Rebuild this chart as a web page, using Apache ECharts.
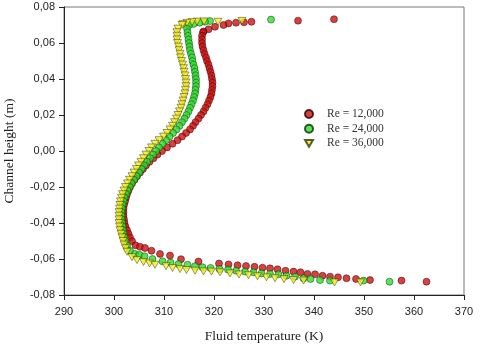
<!DOCTYPE html>
<html>
<head>
<meta charset="utf-8">
<script src="https://cdn.jsdelivr.net/npm/echarts@6/dist/echarts.min.js"></script>
<style>
  html, body { margin: 0; padding: 0; background: #fff; }
  #chart { width: 480px; height: 348px; }
</style>
</head>
<body>
<div id="chart"></div>
<script>
// [temperature (K), channel height (m)]
var re12 = [
  [344.0, 0.0732], [336.8, 0.0724], [327.5, 0.0718], [326.0, 0.0715], [324.4, 0.0713], [322.9, 0.0709],
  [321.9, 0.0700], [320.2, 0.0690], [318.9, 0.0676], [317.9, 0.0664],
  [317.8, 0.066], [317.6, 0.064], [317.6, 0.062], [317.6, 0.060], [317.7, 0.058], [317.9, 0.056],
  [318.1, 0.054], [318.4, 0.052], [318.6, 0.050], [318.9, 0.048], [319.1, 0.046], [319.3, 0.044],
  [319.5, 0.042], [319.6, 0.040], [319.7, 0.038], [319.7, 0.036], [319.6, 0.034], [319.5, 0.032],
  [319.3, 0.030], [319.0, 0.028], [318.7, 0.026], [318.3, 0.024], [317.9, 0.022], [317.4, 0.020],
  [316.9, 0.018], [316.3, 0.016], [315.8, 0.014], [315.2, 0.012], [314.4, 0.010], [313.6, 0.008],
  [312.7, 0.006], [311.7, 0.004], [310.6, 0.002], [309.6, 0.000], [308.7, -0.002], [307.9, -0.004],
  [307.1, -0.006], [306.4, -0.008], [305.8, -0.010], [305.2, -0.012], [304.6, -0.014], [304.1, -0.016],
  [303.6, -0.018], [303.2, -0.020], [302.9, -0.022], [302.6, -0.024], [302.4, -0.026], [302.2, -0.028],
  [302.0, -0.030], [301.9, -0.032], [301.9, -0.034], [301.9, -0.036], [302.0, -0.038], [302.1, -0.040],
  [302.3, -0.042], [302.6, -0.044], [302.9, -0.046], [303.2, -0.048], [303.6, -0.050],
  [304.3, -0.0524], [305.2, -0.0532], [306.2, -0.0539], [307.5, -0.0554], [309.2, -0.0572], [311.2, -0.0581],
  [313.4, -0.0601], [316.9, -0.0614], [321.0, -0.0625], [322.9, -0.0630], [324.7, -0.0635], [326.4, -0.0639],
  [328.1, -0.0643], [329.7, -0.0648], [331.2, -0.0652], [332.7, -0.0657], [334.3, -0.0665], [335.9, -0.0670],
  [337.3, -0.0674], [338.7, -0.0683], [340.2, -0.0685], [341.7, -0.0693], [343.2, -0.0698], [344.8, -0.0702],
  [346.5, -0.0707], [348.4, -0.0711], [351.2, -0.0717], [357.5, -0.0720], [362.5, -0.0726]
];

var re24 = [
  [331.4, 0.0730], [319.2, 0.0722], [318.2, 0.0718], [317.1, 0.0713], [315.9, 0.0706], [315.0, 0.0700],
  [314.6, 0.068], [314.7, 0.066], [314.8, 0.064], [314.9, 0.062], [315.0, 0.060], [315.1, 0.058],
  [315.2, 0.056], [315.4, 0.054], [315.6, 0.052], [315.7, 0.050], [315.9, 0.048], [316.1, 0.046],
  [316.2, 0.044], [316.3, 0.042], [316.4, 0.040], [316.4, 0.038], [316.4, 0.036], [316.3, 0.034],
  [316.2, 0.032], [316.0, 0.030], [315.8, 0.028], [315.5, 0.026], [315.2, 0.024], [314.9, 0.022],
  [314.5, 0.020], [314.1, 0.018], [313.6, 0.016], [313.1, 0.014], [312.5, 0.012], [311.8, 0.010],
  [311.1, 0.008], [310.4, 0.006], [309.7, 0.004], [309.0, 0.002], [308.4, 0.000], [307.8, -0.002],
  [307.2, -0.004], [306.6, -0.006], [306.0, -0.008], [305.5, -0.010], [305.0, -0.012], [304.5, -0.014],
  [304.0, -0.016], [303.5, -0.018], [303.1, -0.020], [302.7, -0.022], [302.4, -0.024], [302.1, -0.026],
  [301.9, -0.028], [301.7, -0.030], [301.6, -0.032], [301.5, -0.034], [301.5, -0.036], [301.5, -0.038],
  [301.6, -0.040], [301.7, -0.042], [301.8, -0.044], [301.9, -0.046], [302.1, -0.048], [302.3, -0.050],
  [302.6, -0.0525], [303.2, -0.0554], [304.2, -0.0572], [305.1, -0.0577], [306.1, -0.0585], [307.7, -0.0600],
  [309.7, -0.0613], [311.3, -0.0620], [312.9, -0.0628], [314.7, -0.0632], [316.2, -0.0640], [317.7, -0.0646],
  [319.3, -0.0650], [321.1, -0.0656], [322.8, -0.0659], [324.4, -0.0665], [326.2, -0.0670], [327.9, -0.0674],
  [329.5, -0.0680], [331.2, -0.0683], [332.9, -0.0685], [334.5, -0.0693], [336.2, -0.0698], [337.9, -0.0707],
  [339.3, -0.0711], [341.2, -0.0717], [343.2, -0.0720], [349.9, -0.0720], [355.1, -0.0726]
];

var re36 = [
  [325.6, 0.0723], [320.8, 0.0718], [318.0, 0.0720], [316.6, 0.0719], [315.6, 0.0716], [314.6, 0.0712],
  [313.8, 0.0705], [313.6, 0.070],
  [312.8, 0.068], [312.6, 0.066], [312.6, 0.064], [312.6, 0.062], [312.7, 0.060], [312.9, 0.058],
  [313.0, 0.056], [313.2, 0.054], [313.3, 0.052], [313.5, 0.050], [313.7, 0.048], [313.9, 0.046],
  [314.0, 0.044], [314.2, 0.042], [314.3, 0.040], [314.4, 0.038], [314.4, 0.036], [314.3, 0.034],
  [314.2, 0.032], [314.0, 0.030], [313.8, 0.028], [313.6, 0.026], [313.4, 0.024], [313.1, 0.022],
  [312.8, 0.020], [312.5, 0.018], [312.1, 0.016], [311.7, 0.014], [311.2, 0.012], [310.6, 0.010],
  [309.9, 0.008], [309.0, 0.006], [308.2, 0.004], [307.5, 0.002], [307.0, 0.000], [306.4, -0.002],
  [305.9, -0.004], [305.4, -0.006], [304.9, -0.008], [304.5, -0.010], [304.0, -0.012], [303.6, -0.014],
  [303.1, -0.016], [302.7, -0.018], [302.3, -0.020], [302.0, -0.022], [301.7, -0.024], [301.5, -0.026],
  [301.3, -0.028], [301.2, -0.030], [301.1, -0.032], [301.0, -0.034], [301.0, -0.036], [301.0, -0.038],
  [301.0, -0.040], [301.1, -0.042], [301.2, -0.044], [301.4, -0.046], [301.6, -0.048], [301.8, -0.050],
  [302.0, -0.052], [302.3, -0.054], [302.6, -0.056],
  [303.6, -0.0590], [304.6, -0.0606], [305.9, -0.0617], [307.1, -0.0625], [308.2, -0.0632], [310.4, -0.0640],
  [311.7, -0.0650], [313.2, -0.0656], [314.5, -0.0661], [316.2, -0.0665], [317.9, -0.0669], [319.5, -0.0670],
  [321.2, -0.0674], [323.2, -0.0680], [325.0, -0.0686], [326.9, -0.0690], [328.7, -0.0696], [330.5, -0.0702],
  [332.2, -0.0707], [334.0, -0.0712], [335.9, -0.0717], [337.9, -0.0720], [344.1, -0.0730], [349.3, -0.0730]
];

var seriesNames = ['Re = 12,000', 'Re = 24,000', 'Re = 36,000'];

// downward pointing triangle
var triDown = 'path://M0,0L10,0L5,8.66Z';

var chart = echarts.init(document.getElementById('chart'));

var option = {
    animation: false,
    backgroundColor: '#fff',
    grid: {
        left: 64, right: 16, top: 7, bottom: 53,
        outerBoundsMode: 'none',
        show: true, borderColor: '#777', borderWidth: 1
    },
    legend: {
        data: [
            { name: seriesNames[0] },
            { name: seriesNames[1] },
            { name: seriesNames[2], icon: triDown }
        ],
        orient: 'vertical',
        left: 299, top: 103,
        itemWidth: 8, itemHeight: 8, itemGap: 2.7,
        textStyle: {
            fontFamily: 'Liberation Serif', fontSize: 11.5, color: '#333',
            padding: [0, 0, 0, 9]
        }
    },
    xAxis: {
        type: 'value', min: 290, max: 370, interval: 10,
        name: 'Fluid temperature (K)', nameLocation: 'middle', nameGap: 34,
        nameTextStyle: { fontFamily: 'Liberation Serif', fontSize: 13.5, color: '#222' },
        axisLine: { onZero: false, lineStyle: { color: '#222' } },
        axisTick: { length: 5, lineStyle: { color: '#222' } },
        axisLabel: { margin: 11, fontFamily: 'Liberation Sans', fontSize: 11, color: '#222' },
        splitLine: { show: false }
    },
    yAxis: {
        type: 'value', min: -0.08, max: 0.08, interval: 0.02,
        name: 'Channel height (m)', nameLocation: 'middle', nameGap: 48, nameRotate: 90,
        nameTextStyle: { fontFamily: 'Liberation Serif', fontSize: 13.5, color: '#222' },
        axisLine: { show: true, onZero: false, lineStyle: { color: '#222' } },
        axisTick: { show: true, length: 5, lineStyle: { color: '#222' } },
        axisLabel: {
            margin: 9, fontFamily: 'Liberation Sans', fontSize: 11, color: '#222',
            formatter: function (v) { return v.toFixed(2).replace('.', ','); }
        },
        splitLine: { show: false }
    },
    series: [{
        name: seriesNames[0],
        type: 'scatter',
        data: re12,
        symbol: 'circle',
        symbolSize: 7,
        itemStyle: { color: '#d01010', borderColor: '#2a0000', borderWidth: 0.6 }
    }, {
        name: seriesNames[1],
        type: 'scatter',
        data: re24,
        symbol: 'circle',
        symbolSize: 7,
        itemStyle: { color: '#2fdc2f', borderColor: '#0a300a', borderWidth: 0.6 }
    }, {
        name: seriesNames[2],
        type: 'scatter',
        data: re36,
        symbol: triDown,
        symbolSize: [8, 7],
        itemStyle: { color: '#f4ee22', borderColor: '#333300', borderWidth: 0.6 }
    }]
};

chart.setOption(option);
</script>
</body>
</html>
